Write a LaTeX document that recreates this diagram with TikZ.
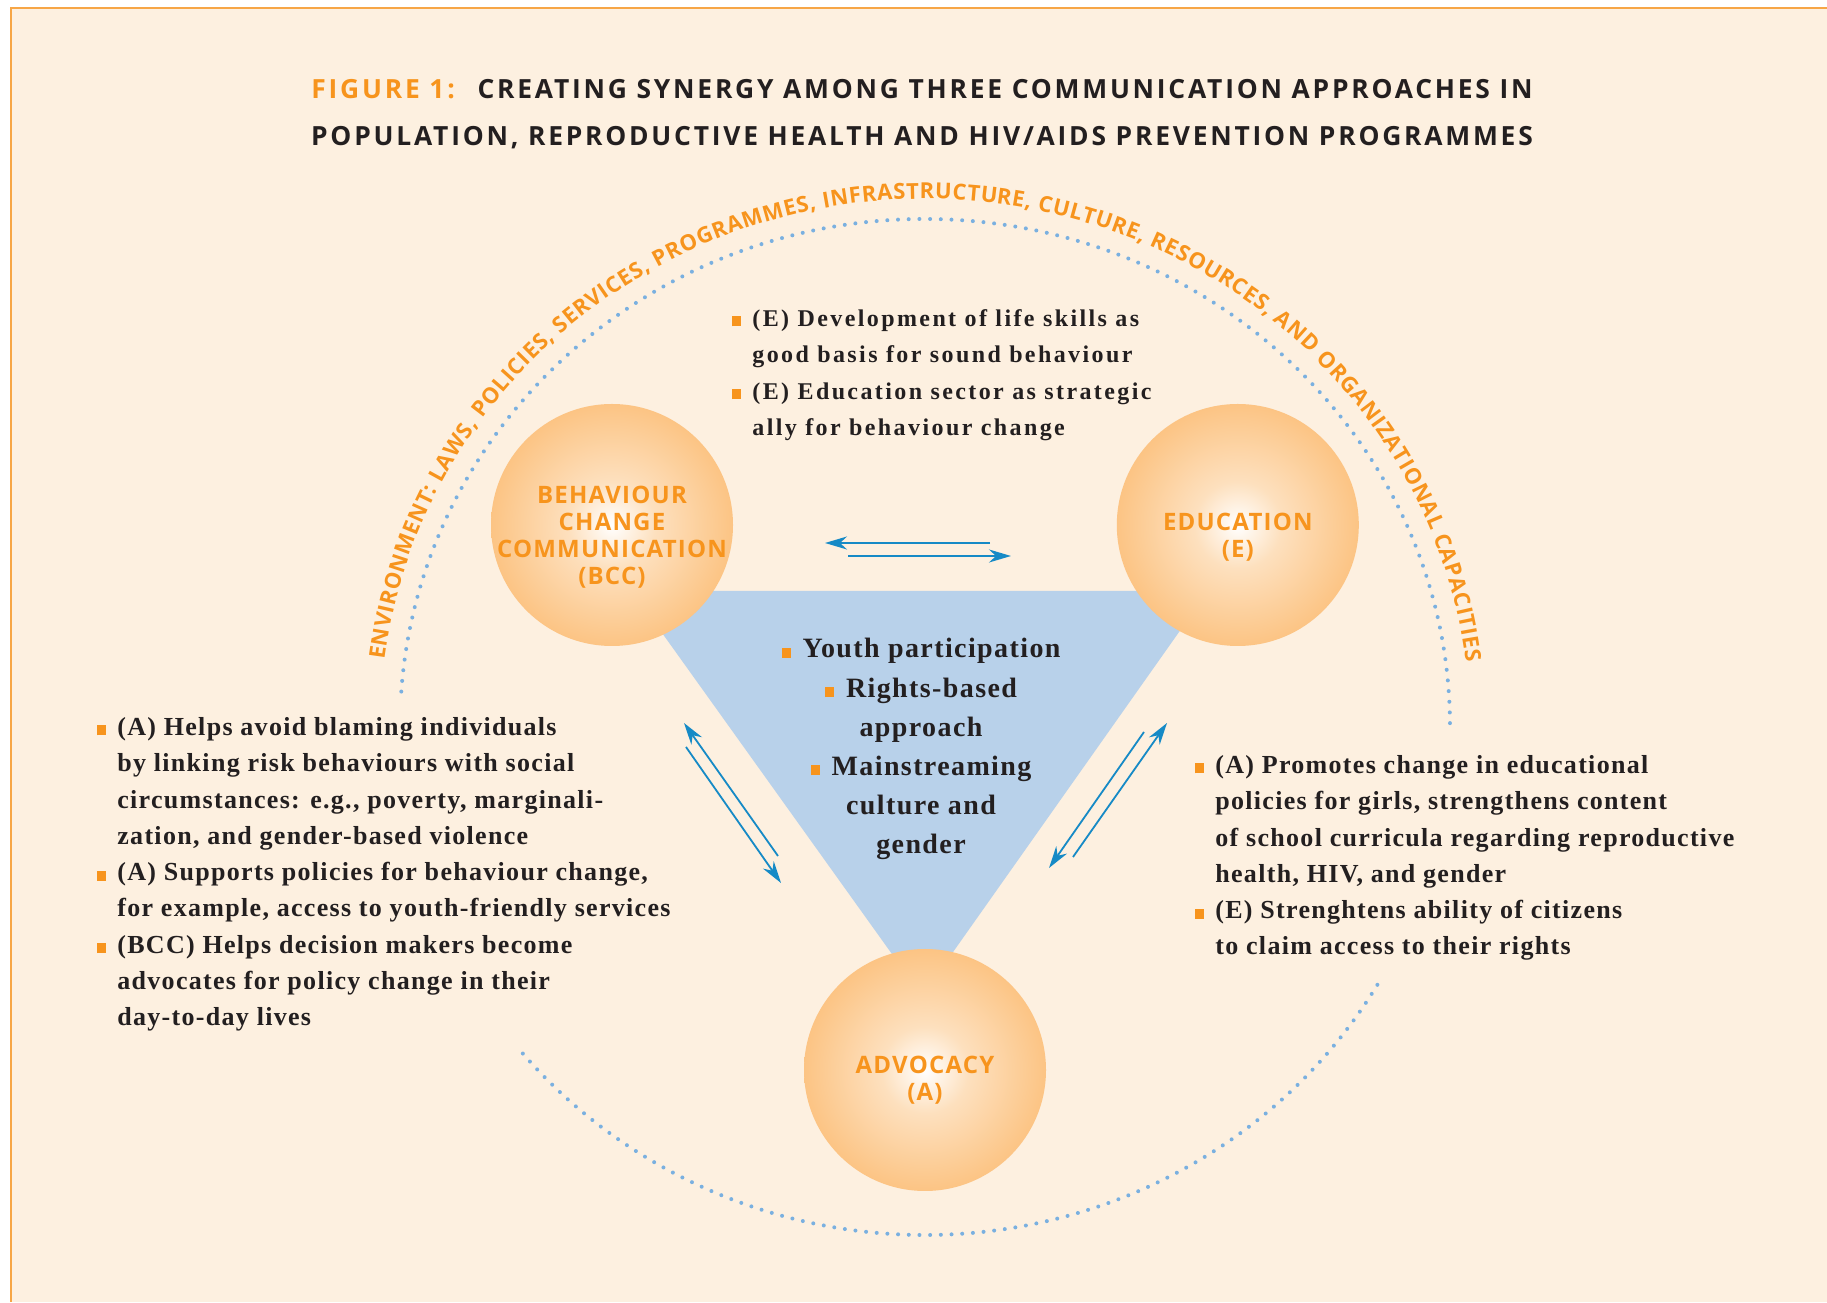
\documentclass[tikz,border=0pt]{standalone}
\usepackage{fontspec}
\usetikzlibrary{calc,positioning,arrows.meta,decorations.text}
\setmainfont{Liberation Serif}
\newfontfamily\notefamily[LetterSpace=5]{Liberation Serif}
\newfontfamily\topfamily[LetterSpace=10]{Liberation Serif}
\newfontfamily\headfamily[LetterSpace=10.5]{Open Sans}
\newfontfamily\ballfamily[LetterSpace=5]{Open Sans}
\newfontfamily\arcfamily{Open Sans}

\definecolor{bgcream}{RGB}{253,240,224}
\definecolor{frameorange}{RGB}{247,166,70}
\definecolor{figorange}{RGB}{247,148,29}
\definecolor{darktext}{RGB}{35,31,32}
\definecolor{triblue}{RGB}{184,209,234}
\definecolor{arrowblue}{RGB}{22,138,198}
\definecolor{dotblue}{RGB}{122,176,224}
\definecolor{ballorange}{RGB}{252,196,132}
\definecolor{ballmid}{RGB}{253,224,190}

\pgfdeclareradialshading{orangeball}{\pgfpoint{0bp}{0bp}}{color(0bp)=(white); color(9bp)=(ballmid); color(25bp)=(ballorange); color(50bp)=(ballorange)}

\newcommand{\sqbullet}{\textcolor{figorange}{\rule{4.5pt}{5pt}}}
\newcommand{\itembul}{\llap{\sqbullet\hspace{5.5pt}}}

\tikzset{line/.style={draw, line width=0.9pt, arrowblue, -{Stealth[length=11pt, width=6.5pt, inset=3.5pt]}}}
\tikzset{dotline/.style={draw=dotblue, line width=2pt, line cap=round, dash pattern=on 0pt off 5.35pt}}

\begin{document}
\begin{tikzpicture}[x=0.5pt, y=0.5pt]
\tikzstyle{ball} = [circle, minimum size=121pt, inner sep=0pt, shading=orangeball]
\tikzstyle{balltext} = [align=center, text=figorange, inner sep=0pt, font=\ballfamily\bfseries\fontsize{12pt}{13.5pt}\selectfont]
\tikzstyle{headline} = [anchor=base, inner sep=0pt, text=darktext, font=\headfamily\bfseries\fontsize{13.2pt}{15pt}\selectfont]
\tikzstyle{note} = [align=left, anchor=north west, inner sep=0pt, text=darktext, font=\notefamily\bfseries\fontsize{13pt}{18.15pt}\selectfont]
\tikzstyle{topnote} = [note, font=\topfamily\bfseries\fontsize{12pt}{18.2pt}\selectfont]
\tikzstyle{midnote} = [align=center, anchor=north, inner sep=0pt, text=darktext, font=\notefamily\bfseries\fontsize{14pt}{19.6pt}\selectfont]

\useasboundingbox (0,0) rectangle (1827,1302);
\fill[bgcream] (11,0) rectangle (1827,1294);
\draw[frameorange, line width=0.8pt] (11,0) -- (11,1294) -- (1827,1294);

% title
\node[headline] (title) at (922,1203) {\textcolor{figorange}{FIGURE 1:}\hspace{5pt} CREATING SYNERGY AMONG THREE COMMUNICATION APPROACHES IN};
\node[headline] (title2) at (922,1156) {POPULATION, REPRODUCTIVE HEALTH AND HIV/AIDS PREVENTION PROGRAMMES};

% environment
\coordinate (env) at (925,575);
\draw[dotline] ($(env)+(176:525 and 508)$) arc[start angle=176, end angle=0, x radius=525, y radius=508];
\draw[dotline] ($(env)+(220:525 and 508)$) arc[start angle=220, end angle=330, x radius=525, y radius=508];
\path[decorate, decoration={text along path, text align={fit to path}, text color=figorange,
  text={|\arcfamily\bfseries\fontsize{11pt}{13pt}\selectfont|ENVIRONMENT: LAWS, POLICIES, SERVICES, PROGRAMMES, INFRASTRUCTURE, CULTURE, RESOURCES, AND ORGANIZATIONAL CAPACITIES}}]
  ($(env)+(172.7:545 and 528)$) arc[start angle=172.7, end angle=7.1, x radius=545, y radius=528];

% triangle
\fill[triblue] (632,711) -- (1208,711) -- (922,306) -- cycle;

% approaches
\node[ball] (bcc) at (612,777) {};
\node[ball, right=191.5pt of bcc] (edu) {};
\node[ball] (adv) at (925,232) {};
\node[balltext] (bcclabel) at ([yshift=-6pt]bcc.center) {BEHAVIOUR\\CHANGE\\COMMUNICATION\\(BCC)};
\node[balltext] (edulabel) at ([yshift=-6pt]edu.center) {EDUCATION\\(E)};
\node[balltext] (advlabel) at ([yshift=-5pt]adv.center) {ADVOCACY\\(A)};

% arrows
\coordinate (be1) at (990,759);
\coordinate (be2) at (825,759);
\coordinate (eb1) at (848,746);
\coordinate (eb2) at (1011,746);
\coordinate (ab1) at (778,446);
\coordinate (ab2) at (684,579);
\coordinate (ba1) at (686,555);
\coordinate (ba2) at (781,419);
\coordinate (ae1) at (1073,445);
\coordinate (ae2) at (1167,579);
\coordinate (ea1) at (1144,570);
\coordinate (ea2) at (1049,434);
\path [line] (be1) -- (be2);
\path [line] (eb1) -- (eb2);
\path [line] (ab1) -- (ab2);
\path [line] (ba1) -- (ba2);
\path [line] (ae1) -- (ae2);
\path [line] (ea1) -- (ea2);

% texts
\node[topnote] (edunote) at (752,993) {\itembul(E) Development of life skills as\\good basis for sound behaviour\\\itembul(E) Education sector as strategic\\ally for behaviour change};
\node[midnote] (synergy) at (921,664) {\sqbullet\hspace{6pt}Youth participation\\\sqbullet\hspace{6pt}Rights-based\\approach\\\sqbullet\hspace{6pt}Mainstreaming\\culture and\\gender};
\node[note] (advnote) at (117,585) {\itembul(A) Helps avoid blaming individuals\\by linking risk behaviours with social\\circumstances: e.g., poverty, marginali-\\zation, and gender-based violence\\\itembul(A) Supports policies for behaviour change,\\for example, access to youth-friendly services\\\itembul(BCC) Helps decision makers become\\advocates for policy change in their\\day-to-day lives};
\node[note] (policynote) at (1215,547) {\itembul(A) Promotes change in educational\\policies for girls, strengthens content\\of school curricula regarding reproductive\\health, HIV, and gender\\\itembul(E) Strenghtens ability of citizens\\to claim access to their rights};

\end{tikzpicture}
\end{document}
